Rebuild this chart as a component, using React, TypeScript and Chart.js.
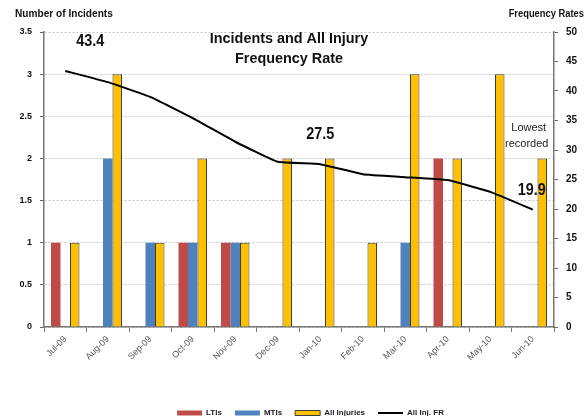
import React, { useEffect, useRef } from "react";
import { Chart, registerables } from "chart.js";

Chart.register(...registerables);

const FONT = '"Liberation Sans", Arial, sans-serif';

const categories = ["Jul-09", "Aug-09", "Sep-09", "Oct-09", "Nov-09", "Dec-09", "Jan-10", "Feb-10", "Mar-10", "Apr-10", "May-10", "Jun-10"];
const ltis = [1, 0, 0, 1, 1, 0, 0, 0, 0, 2, 0, 0];
const mtis = [0, 2, 1, 1, 1, 0, 0, 0, 1, 0, 0, 0];
const allInjuries = [1, 3, 1, 2, 1, 2, 2, 1, 3, 2, 3, 2];
const allInjFR = [43.4, 41.5, 39.0, 35.4, 31.4, 28.0, 27.6, 25.9, 25.4, 24.9, 22.9, 19.9];
const seriesNames = ["LTIs", "MTIs", "All Injuries", "All Inj. FR"];
const titleLines = ["Incidents and All Injury", "Frequency Rate"];
const leftAxisTitle = "Number of Incidents";
const rightAxisTitle = "Frequency Rates";
const valueCallouts = [
  { text: "43.4", index: 0, value: 43.4 },
  { text: "27.5", index: 6, value: 27.5 },
  { text: "19.9", index: 11, value: 19.9 },
];
const noteLines = ["Lowest", "recorded"];

function squeezedText(ctx: CanvasRenderingContext2D, text: string, x: number, y: number, sx: number) {
  ctx.save();
  ctx.translate(x, y);
  ctx.scale(sx, 1);
  ctx.fillText(text, 0, 0);
  ctx.restore();
}

const textPlugin = {
  id: "texts",
  beforeDraw(chart: any) {
    const lg = chart.legend;
    if (lg) {
      lg.left = 34;
      lg.right = 587;
      const h = lg.height;
      lg.top = 427 - h;
      lg.bottom = 427;
    }
  },
  afterDraw(chart: any) {
    const ctx = chart.ctx as CanvasRenderingContext2D;
    const xs = chart.scales.x;
    const y1 = chart.scales.y1;
    const area = chart.chartArea;
    ctx.save();
    ctx.fillStyle = "#111";
    ctx.textBaseline = "middle";

    // axis titles
    ctx.font = `bold 11px ${FONT}`;
    ctx.textAlign = "left";
    squeezedText(ctx, leftAxisTitle, 15, 14, 0.92);
    ctx.textAlign = "right";
    squeezedText(ctx, rightAxisTitle, 584, 14, 0.85);

    // chart title
    const cx = (area.left + area.right) / 2;
    ctx.textAlign = "center";
    ctx.font = `bold 15px ${FONT}`;
    squeezedText(ctx, titleLines[0], cx - 10, area.top + 7, 0.96);
    squeezedText(ctx, titleLines[1], cx - 10, area.top + 27, 0.96);

    // value callouts
    ctx.font = `bold 17px ${FONT}`;
    const offs = [
      [25, -30],
      [0, -30],
      [-1, -19],
    ];
    valueCallouts.forEach((c, i) => {
      const px = xs.getPixelForValue(c.index) + offs[i][0];
      const py = y1.getPixelForValue(c.value) + offs[i][1];
      squeezedText(ctx, c.text, px, py, 0.85);
    });

    // note
    ctx.font = `11px ${FONT}`;
    ctx.fillStyle = "#222";
    const nx = xs.getPixelForValue(11) - 4;
    ctx.fillText(noteLines[0], nx, y1.getPixelForValue(33.7));
    ctx.fillText(noteLines[1], nx - 2, y1.getPixelForValue(31.1));
    ctx.restore();
  },
};

export default function App() {
  const ref = useRef<HTMLCanvasElement>(null);
  useEffect(() => {
    document.body.style.margin = "0";
    const chart = new Chart(ref.current as HTMLCanvasElement, {
      type: "bar",
      data: {
        labels: categories,
        datasets: [
          {
            type: "bar",
            label: seriesNames[0],
            data: ltis,
            backgroundColor: "#BE4B48",
            borderColor: "#BE4B48",
            borderWidth: 0,
            yAxisID: "y",
            order: 2,
          },
          {
            type: "bar",
            label: seriesNames[1],
            data: mtis,
            backgroundColor: "#4F81BD",
            borderColor: "#4F81BD",
            borderWidth: 0,
            yAxisID: "y",
            order: 2,
          },
          {
            type: "bar",
            label: seriesNames[2],
            data: allInjuries,
            backgroundColor: "#FFC000",
            borderColor: "#3a3a3a",
            borderWidth: 1,
            yAxisID: "y",
            order: 2,
          },
          {
            type: "line",
            label: seriesNames[3],
            data: allInjFR,
            borderColor: "#000",
            backgroundColor: "#000",
            borderWidth: 2,
            pointRadius: 0,
            tension: 0.1,
            yAxisID: "y1",
            order: 0,
          } as any,
        ],
      },
      options: {
        responsive: false,
        animation: false,
        devicePixelRatio: 1,
        layout: { padding: { top: 32, left: 0, right: 0, bottom: 0 } },
        datasets: {
          bar: { categoryPercentage: 0.67, barPercentage: 1.0 },
        },
        plugins: {
          title: { display: false },
          tooltip: { enabled: false },
          legend: {
            position: "bottom",
            labels: {
              usePointStyle: true,
              pointStyleWidth: 25,
              boxHeight: 5,
              padding: 13,
              color: "#222",
              font: { family: FONT, size: 8, weight: "bold" },
              generateLabels: (ch: any) => {
                const items = (Chart.defaults.plugins.legend.labels as any).generateLabels(ch);
                items.sort((a: any, b: any) => a.datasetIndex - b.datasetIndex);
                return items.map((it: any) => {
                  const ds: any = ch.data.datasets[it.datasetIndex];
                  if (ds.type === "line") {
                    return { ...it, pointStyle: "line", strokeStyle: "#000", fillStyle: "#000", lineWidth: 2 };
                  }
                  return {
                    ...it,
                    pointStyle: "rect",
                    fillStyle: ds.backgroundColor,
                    strokeStyle: ds.borderColor,
                    lineWidth: ds.borderWidth,
                  };
                });
              },
            },
          },
        },
        scales: {
          x: {
            type: "category",
            grid: { display: true, drawOnChartArea: false, tickLength: 5, color: "#777" },
            border: { display: true, color: "#777", width: 1.5 },
            ticks: {
              minRotation: 45,
              maxRotation: 45,
              color: "#555",
              font: { family: FONT, size: 9 },
              padding: 2,
            },
            afterFit: (s: any) => {
              const lh = s.chart.legend ? s.chart.legend.height : 0;
              s.height = 416 - 327 - lh;
            },
          },
          y: {
            type: "linear",
            position: "left",
            min: 0,
            max: 3.5,
            ticks: {
              stepSize: 0.5,
              color: "#111",
              font: { family: FONT, size: 9, weight: "bold" },
              padding: 8,
              callback: (v: any) => String(Number(v)),
            },
            grid: { color: "#c4c4c4", tickLength: 4, tickColor: "#666", lineWidth: 1 },
            border: { display: true, color: "#777", width: 1.5, dash: [2, 2] },
            afterFit: (s: any) => {
              s.width = 44;
            },
          },
          y1: {
            type: "linear",
            position: "right",
            min: 0,
            max: 50,
            ticks: {
              stepSize: 5,
              color: "#111",
              font: { family: FONT, size: 10, weight: "bold" },
              padding: 8,
            },
            grid: { drawOnChartArea: false, tickLength: 4, color: "#666" },
            border: { display: true, color: "#777", width: 1.5 },
            afterFit: (s: any) => {
              s.width = 33;
            },
          },
        },
      } as any,
      plugins: [textPlugin],
    });
    return () => chart.destroy();
  }, []);
  return (
    <div style={{ width: 587, height: 416, position: "relative" }}>
      <canvas ref={ref} width={587} height={416} style={{ display: "block" }} />
    </div>
  );
}
